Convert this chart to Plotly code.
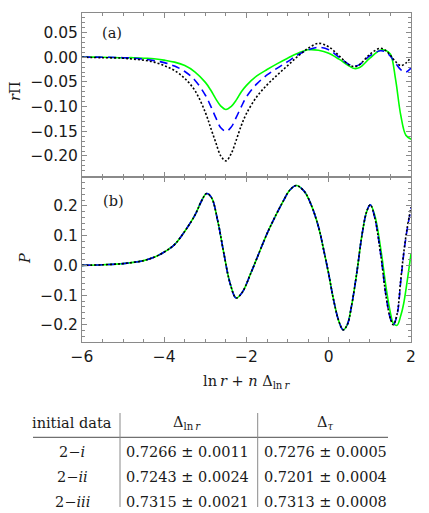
import plotly.graph_objects as go
from plotly.subplots import make_subplots

# ---------------- data ----------------
x_a = [-6, -5.5, -5, -4.75, -4.5, -4.25, -4, -3.75, -3.5, -3.25, -3, -2.875, -2.75,
       -2.625, -2.5, -2.375, -2.25, -2.125, -2, -1.75, -1.5, -1.25, -1, -0.75, -0.5,
       -0.25, 0, 0.25, 0.5, 0.625, 0.75, 1.0, 1.25, 1.375, 1.5, 1.625, 1.75, 1.875, 2.0]
rpi_dotted = [0.000, -0.001, -0.002, -0.004, -0.006, -0.010, -0.017, -0.027, -0.043,
              -0.068, -0.112, -0.142, -0.172, -0.200, -0.210, -0.196, -0.168, -0.138,
              -0.114, -0.080, -0.056, -0.036, -0.017, 0.002, 0.018, 0.028, 0.021,
              0.003, -0.016, -0.019, -0.015, 0.006, 0.018, 0.014, 0.004, -0.009,
              -0.017, -0.012, 0.000]
rpi_dashed = [0.000, 0.000, -0.001, -0.002, -0.004, -0.007, -0.011, -0.018, -0.029,
              -0.047, -0.077, -0.098, -0.122, -0.143, -0.150, -0.142, -0.122, -0.100,
              -0.080, -0.054, -0.036, -0.022, -0.009, 0.005, 0.015, 0.020, 0.015,
              0.000, -0.015, -0.018, -0.015, 0.003, 0.013, 0.011, 0.002, -0.012,
              -0.025, -0.030, -0.022]
rpi_solid = [0.000, 0.000, -0.001, -0.001, -0.002, -0.003, -0.006, -0.010, -0.017,
             -0.030, -0.051, -0.066, -0.084, -0.099, -0.106, -0.100, -0.087, -0.070,
             -0.057, -0.038, -0.025, -0.013, -0.002, 0.008, 0.015, 0.014, 0.008,
             -0.004, -0.018, -0.023, -0.021, -0.002, 0.014, 0.014, 0.006, -0.045,
             -0.117, -0.158, -0.166]

x_b = [-6, -5.5, -5, -4.5, -4.25, -4, -3.75, -3.5, -3.25, -3.1, -2.97, -2.85, -2.7,
       -2.55, -2.4, -2.25, -2.1, -1.9, -1.7, -1.5, -1.3, -1.1, -0.95, -0.79, -0.6,
       -0.44, -0.25, -0.12, 0.0, 0.12, 0.25, 0.35, 0.45, 0.55, 0.69, 0.8, 0.92,
       1.01, 1.12, 1.26, 1.4, 1.5, 1.57, 1.66, 1.75, 1.82, 1.9, 2.0]
p_dotted = [0.000, 0.002, 0.006, 0.016, 0.027, 0.045, 0.070, 0.115, 0.170, 0.215,
            0.242, 0.228, 0.150, 0.040, -0.060, -0.110, -0.090, -0.028, 0.040, 0.107,
            0.165, 0.218, 0.253, 0.269, 0.250, 0.208, 0.130, 0.050, -0.030, -0.118,
            -0.190, -0.217, -0.200, -0.140, -0.017, 0.095, 0.180, 0.204, 0.160, 0.040,
            -0.110, -0.180, -0.200, -0.165, -0.050, 0.039, 0.120, 0.196]
p_dashed = [0.000, 0.002, 0.006, 0.016, 0.027, 0.045, 0.070, 0.115, 0.170, 0.215,
            0.242, 0.228, 0.150, 0.040, -0.060, -0.110, -0.090, -0.028, 0.040, 0.107,
            0.165, 0.218, 0.253, 0.269, 0.250, 0.208, 0.130, 0.050, -0.030, -0.118,
            -0.190, -0.217, -0.200, -0.140, -0.017, 0.095, 0.180, 0.204, 0.160, 0.040,
            -0.110, -0.180, -0.200, -0.168, -0.055, 0.035, 0.115, 0.192]
p_solid = [0.000, 0.002, 0.006, 0.016, 0.027, 0.045, 0.070, 0.115, 0.170, 0.215,
           0.242, 0.228, 0.150, 0.040, -0.060, -0.110, -0.090, -0.028, 0.040, 0.107,
           0.165, 0.218, 0.253, 0.269, 0.250, 0.208, 0.130, 0.050, -0.030, -0.118,
           -0.190, -0.217, -0.200, -0.140, -0.017, 0.095, 0.180, 0.204, 0.168, 0.060,
           -0.080, -0.160, -0.195, -0.202, -0.170, -0.130, -0.060, 0.039]

table_header = ["initial data", "Δ<sub>ln\u2009<i>r</i></sub>", "Δ<sub><i>τ</i></sub>"]
table_rows = ["2−<i>i</i>", "2−<i>ii</i>", "2−<i>iii</i>"]
delta_lnr = ["0.7266 ± 0.0011", "0.7243 ± 0.0024", "0.7315 ± 0.0021"]
delta_tau = ["0.7276 ± 0.0005", "0.7201 ± 0.0004", "0.7313 ± 0.0008"]

# ---------------- layout geometry ----------------
# the page body has an 8px margin, so the figure starts at (8, 8) in the window
OFF = 8
W, H = 429 - OFF, 513 - OFF
PLOT_L, PLOT_R, PLOT_T, PLOT_B = 82, 411, 13, 342   # plot-area edges in window pixels
L = PLOT_L - OFF
T = PLOT_T - OFF
R = W - (PLOT_R - OFF)
B = H - (PLOT_B - OFF)
PW, PH = PLOT_R - PLOT_L, PLOT_B - PLOT_T


def px_x(px):
    return (px - PLOT_L) / PW


def px_y(py):
    return (PLOT_B - py) / PH


GREEN = "#00ff00"
BLUE = "#0000ff"
BLACK = "#000000"
FRAME = "#8a8a8a"
SERIF = "DejaVu Serif"
SANS = "DejaVu Sans"

fig = make_subplots(rows=2, cols=1, shared_xaxes=True, vertical_spacing=0)

for row, xs, ys_solid, ys_dash, ys_dot in [
    (1, x_a, rpi_solid, rpi_dashed, rpi_dotted),
    (2, x_b, p_solid, p_dashed, p_dotted),
]:
    fig.add_trace(go.Scatter(x=xs, y=ys_solid, mode="lines",
                             line=dict(color=GREEN, width=1.6, shape="spline", smoothing=1.0)),
                  row=row, col=1)
    fig.add_trace(go.Scatter(x=xs, y=ys_dash, mode="lines",
                             line=dict(color=BLUE, width=1.6, dash="8px,5px", shape="spline", smoothing=1.0)),
                  row=row, col=1)
    fig.add_trace(go.Scatter(x=xs, y=ys_dot, mode="lines",
                             line=dict(color=BLACK, width=1.6, dash="2px,2px", shape="spline", smoothing=1.0)),
                  row=row, col=1)

axis_common = dict(showline=True, linecolor=FRAME, linewidth=1, mirror="allticks",
                   ticks="inside", ticklen=5, tickcolor=FRAME, tickwidth=1,
                   showgrid=False, zeroline=False,
                   tickfont=dict(family=SANS, size=15.5, color="#1a1a1a"))

fig.update_xaxes(range=[-6, 2], tick0=-6, dtick=2,
                 minor=dict(dtick=0.5, ticks="inside", ticklen=3, tickcolor=FRAME, showgrid=False),
                 **axis_common)
fig.update_xaxes(showticklabels=False, row=1, col=1)
fig.update_xaxes(showticklabels=True, row=2, col=1)

fig.update_yaxes(range=[-0.242, 0.0895], tick0=0, dtick=0.05, tickformat=".2f",
                 minor=dict(dtick=0.01, ticks="inside", ticklen=3, tickcolor=FRAME, showgrid=False),
                 row=1, col=1, **axis_common)
fig.update_yaxes(range=[-0.258, 0.2985], tick0=0, dtick=0.1, tickformat=".1f",
                 minor=dict(dtick=0.02, ticks="inside", ticklen=3, tickcolor=FRAME, showgrid=False),
                 row=2, col=1, **axis_common)

split = px_y(176.7)
fig.update_layout(yaxis=dict(domain=[split, 1]), yaxis2=dict(domain=[0, split]))

ann = []
ann.append(dict(text="(a)", x=px_x(111.7), y=px_y(33.3)))
ann.append(dict(text="(b)", x=px_x(113.3), y=px_y(200.7)))
ann.append(dict(text="<i>r</i>Π", x=px_x(15), y=px_y(91), textangle=-90))
ann.append(dict(text="<i>P</i>", x=px_x(25), y=px_y(259), textangle=-90))
ann.append(dict(text="ln\u2009<i>r</i> + <i>n</i> Δ<sub>ln\u2009<i>r</i></sub>",
                x=px_x(246), y=px_y(381.7)))

col_x = [72, 187, 325]
row_y = [451.7, 476.7, 501.7]
for cx, htxt in zip(col_x, table_header):
    ann.append(dict(text=htxt, x=px_x(cx), y=px_y(423)))
for ry, lab, v1, v2 in zip(row_y, table_rows, delta_lnr, delta_tau):
    ann.append(dict(text=lab, x=px_x(col_x[0]), y=px_y(ry)))
    ann.append(dict(text=v1, x=px_x(col_x[1]), y=px_y(ry)))
    ann.append(dict(text=v2, x=px_x(col_x[2]), y=px_y(ry)))

for a in ann:
    a.update(xref="paper", yref="paper", showarrow=False, xanchor="center", yanchor="middle",
             font=dict(family=SERIF, size=14.5, color="#1a1a1a"))
fig.update_layout(annotations=ann)

shapes = [
    dict(type="line", xref="paper", yref="paper", x0=px_x(33), x1=px_x(388),
         y0=px_y(437.3), y1=px_y(437.3), line=dict(color="#707070", width=1.2)),
    dict(type="line", xref="paper", yref="paper", x0=px_x(120), x1=px_x(120),
         y0=px_y(413), y1=px_y(507), line=dict(color="#8a8a8a", width=1)),
    dict(type="line", xref="paper", yref="paper", x0=px_x(257.7), x1=px_x(257.7),
         y0=px_y(413), y1=px_y(507), line=dict(color="#8a8a8a", width=1)),
]
fig.update_layout(shapes=shapes)

fig.update_layout(width=W, height=H, margin=dict(l=L, r=R, t=T, b=B, autoexpand=False),
                  paper_bgcolor="white", plot_bgcolor="white", showlegend=False)

fig.write_html("out.html")
